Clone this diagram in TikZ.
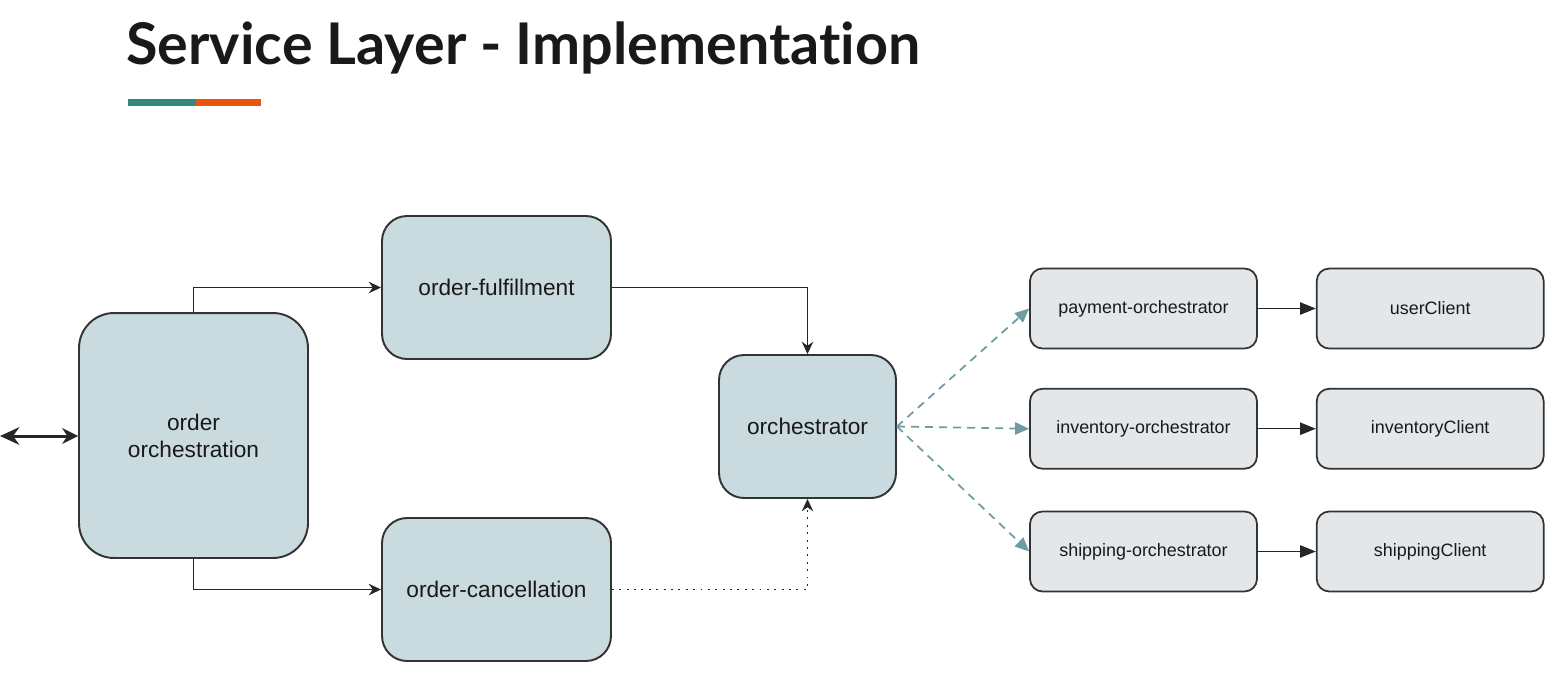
\documentclass[tikz,border=0pt]{standalone}
\usepackage{fontspec}
\setmainfont{Liberation Sans}
\newfontfamily\titlefont[Ligatures={NoCommon,NoDiscretionary,NoRare}]{Lato}
\usetikzlibrary{arrows.meta,positioning}
\definecolor{boxblue}{HTML}{CADBDF}
\definecolor{boxgrey}{HTML}{E4E7EA}
\definecolor{fanteal}{HTML}{6F9CA2}
\definecolor{barteal}{HTML}{2E8B7E}
\definecolor{barorange}{HTML}{E8550F}

\begin{document}
\begin{tikzpicture}[x=0.02cm,y=-0.02cm,>={Stealth[length=7pt,width=6.5pt]}]
  \tikzstyle{bigbox}=[draw=black!80,line width=1.1pt,rounded corners=0.5cm,fill=boxblue,align=center,text=black!90,font=\fontsize{12.9}{15.5}\selectfont]
  \tikzstyle{smallbox}=[draw=black!80,line width=1pt,rounded corners=0.25cm,fill=boxgrey,minimum width=4.54cm,minimum height=1.6cm,text=black!90,font=\fontsize{10.2}{12}\selectfont]
  \tikzstyle{link}=[line width=0.85pt,black!85]
  \tikzstyle{fan}=[line width=1pt,fanteal,dash pattern=on 4.5pt off 3.5pt,-{Triangle[length=8pt,width=7pt]}]
  \useasboundingbox (0,0) rectangle (1561,681);
  % title
  \node[anchor=base west,inner sep=0pt,font=\titlefont\bfseries\fontsize{32.7}{40}\selectfont,text=black!90] (title) at (126,64) {Service Layer - Implementat\kern0pt ion};
  \fill[barteal] (128,99) rectangle (196,106);
  \fill[barorange] (196,99) rectangle (261,106);
  % left part
  \node[bigbox,minimum width=4.58cm,minimum height=4.9cm,rounded corners=0.7cm] (orch) at (193.5,435.5) {order\\orchestration};
  \node[bigbox,minimum width=4.58cm,minimum height=2.86cm] (ful) at (496.5,287.5) {order-fulfillment};
  \node[bigbox,minimum width=4.58cm,minimum height=2.86cm] (can) at (496.5,589.5) {order-cancellation};
  \node[bigbox,minimum width=3.54cm,minimum height=2.86cm] (core) at (807.5,426.5) {orchestrator};
  \coordinate (ext) at (0,436);
  % right part
  \node[smallbox] (pay) at (1143.5,308.5) {payment-orchestrator};
  \node[smallbox,below=0.77cm of pay] (inv) {inventory-orchestrator};
  \node[smallbox,below=0.82cm of inv] (ship) {shipping-orchestrator};
  \node[smallbox,right=1.16cm of pay] (user) {userClient};
  \node[smallbox,right=1.16cm of inv] (invc) {inventoryClient};
  \node[smallbox,right=1.16cm of ship] (shipc) {shippingClient};
  % connectors
  \draw[line width=1.7pt,black!85,{Stealth[length=11pt,width=10pt]}-{Stealth[length=9pt,width=9pt]}] (ext) -- (orch.west |- ext);
  \draw[link,->] (orch.north) |- (ful.west);
  \draw[link,->] (orch.south) |- (can.west);
  \draw[link,->] (ful.east) -| (core.north);
  \draw[link,->,line width=1.1pt,dash pattern=on 1.1pt off 3.1pt] (can.east) -| (core.south);
  \draw[fan] (core.east) -- (pay.west);
  \draw[fan] (core.east) -- (inv.west);
  \draw[fan] (core.east) -- (ship.west);
  \draw[link,-{Triangle[length=9pt,width=7pt]}] (pay) -- (user);
  \draw[link,-{Triangle[length=9pt,width=7pt]}] (inv) -- (invc);
  \draw[link,-{Triangle[length=9pt,width=7pt]}] (ship) -- (shipc);
\end{tikzpicture}
\end{document}
